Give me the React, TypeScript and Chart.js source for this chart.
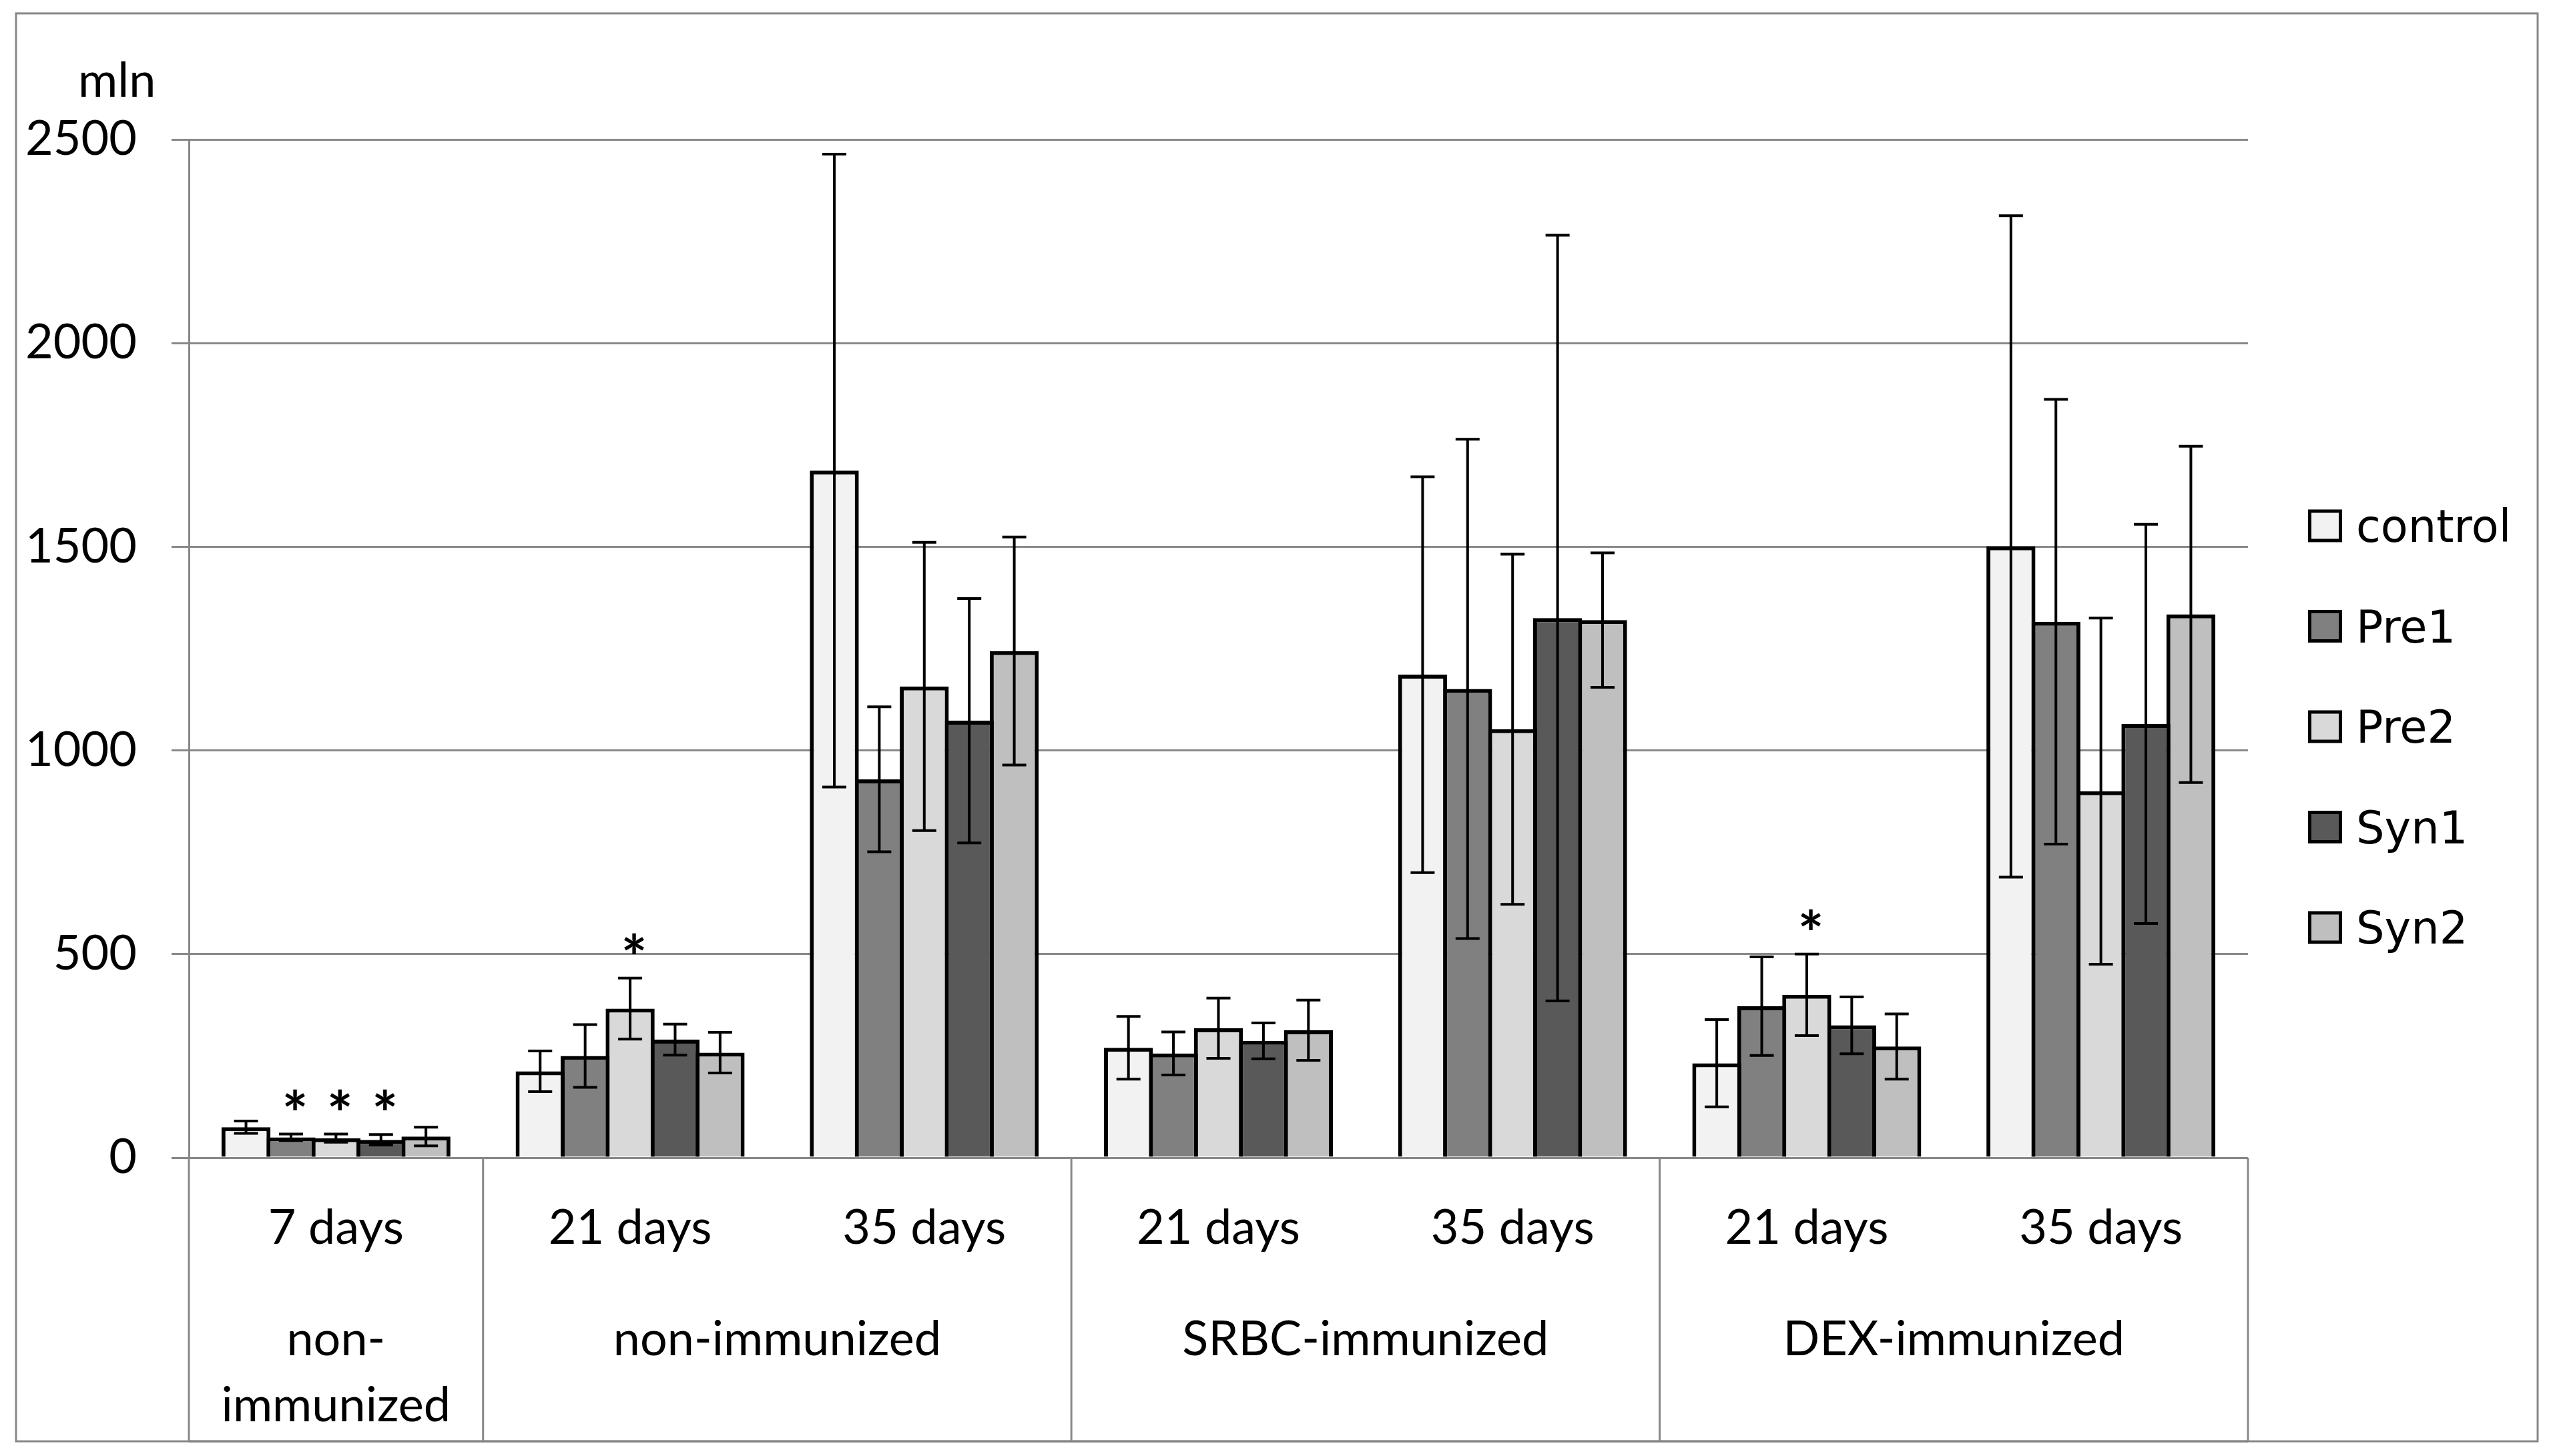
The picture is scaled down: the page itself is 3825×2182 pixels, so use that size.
import React, { useEffect, useRef } from 'react';
import { Chart, registerables } from 'chart.js';

Chart.register(...registerables);

// ---------- data ----------
const categories = ['7 days', '21 days', '35 days', '21 days', '35 days', '21 days', '35 days'];
const groupLabels = [['non-', 'immunized'], ['non-immunized'], ['SRBC-immunized'], ['DEX-immunized']];
const groupSpans = [1, 2, 2, 2];

const seriesNames = ['control', 'Pre1', 'Pre2', 'Syn1', 'Syn2'];
const control = [75, 212, 1687, 270, 1186, 232, 1501];
const controlErr = [15, 50, 777, 77, 486, 107, 812];
const pre1 = [50, 250, 929, 256, 1151, 372, 1316];
const pre1Err = [8, 77, 178, 53, 613, 121, 546];
const pre2 = [48, 366, 1157, 318, 1052, 400, 900];
const pre2Err = [10, 75, 354, 74, 430, 100, 425];
const syn1 = [44, 290, 1073, 287, 1325, 325, 1065];
const syn1Err = [13, 38, 300, 44, 940, 70, 490];
const syn2 = [52, 258, 1244, 313, 1320, 273, 1334];
const syn2Err = [23, 50, 280, 74, 165, 80, 413];

const seriesValues = [control, pre1, pre2, syn1, syn2];
const seriesErrors = [controlErr, pre1Err, pre2Err, syn1Err, syn2Err];
const seriesColors = ['#f2f2f2', '#808080', '#d9d9d9', '#595959', '#bfbfbf'];

const yTicks = [0, 500, 1000, 1500, 2000, 2500];
const yUnit = 'mln';
// [seriesIndex, categoryIndex] of bars marked with "*"
const significant = [[1, 0], [2, 0], [3, 0], [2, 1], [2, 5]];

// ---------- styling ----------
const W = 3825;
const H = 2182;
const GRID = '#888888';
const AXIS_FONT = 'Lato, "Open Sans", sans-serif';
const LEGEND_FONT = '"DejaVu Sans", Verdana, sans-serif';

const overlayPlugin = {
  id: 'overlay',
  afterDatasetsDraw(chart: any) {
    const ctx = chart.ctx;
    const ys = chart.scales.y;
    ctx.save();
    ctx.strokeStyle = '#000';
    ctx.lineWidth = 4;
    chart.data.datasets.forEach((ds: any, di: number) => {
      const meta = chart.getDatasetMeta(di);
      meta.data.forEach((bar: any, i: number) => {
        const v = ds.data[i];
        const e = seriesErrors[di][i];
        const yt = ys.getPixelForValue(v + e);
        const yb = ys.getPixelForValue(v - e);
        const cap = 18;
        ctx.beginPath();
        ctx.moveTo(bar.x, yt);
        ctx.lineTo(bar.x, yb);
        ctx.moveTo(bar.x - cap, yt);
        ctx.lineTo(bar.x + cap, yt);
        ctx.moveTo(bar.x - cap, yb);
        ctx.lineTo(bar.x + cap, yb);
        ctx.stroke();
      });
    });
    // significance asterisks
    ctx.fillStyle = '#000';
    ctx.font = `bold 92px ${AXIS_FONT}`;
    ctx.textAlign = 'center';
    ctx.textBaseline = 'alphabetic';
    const m = ctx.measureText('*');
    const asc = m.actualBoundingBoxAscent || 50;
    const desc = m.actualBoundingBoxDescent || 0;
    significant.forEach(([si, ci]) => {
      const bar = chart.getDatasetMeta(si).data[ci];
      const top = ys.getPixelForValue(seriesValues[si][ci] + seriesErrors[si][ci]);
      const cy = top - 52;
      ctx.fillText('*', bar.x + 6, cy + (asc - desc) / 2);
    });
    ctx.restore();
  },
  afterDraw(chart: any) {
    const ctx = chart.ctx;
    const xs = chart.scales.x;
    const area = chart.chartArea;
    const frameBottom = 2160;
    ctx.save();
    // outer frame
    ctx.strokeStyle = GRID;
    ctx.lineWidth = 3;
    ctx.strokeRect(24, 20, 3802 - 24, frameBottom - 20);
    // table lines below the axis
    const xsLines: number[] = [area.left];
    let idx = 0;
    groupSpans.forEach((span) => {
      idx += span;
      if (idx < categories.length) {
        xsLines.push((xs.getPixelForValue(idx - 1) + xs.getPixelForValue(idx)) / 2);
      }
    });
    xsLines.push(area.right);
    ctx.beginPath();
    xsLines.forEach((x) => {
      ctx.moveTo(x, area.bottom);
      ctx.lineTo(x, frameBottom);
    });
    ctx.moveTo(area.left, frameBottom);
    ctx.lineTo(area.right, frameBottom);
    ctx.stroke();

    // group labels
    ctx.fillStyle = '#000';
    ctx.font = `72px ${AXIS_FONT}`;
    ctx.textAlign = 'center';
    ctx.textBaseline = 'alphabetic';
    let start = 0;
    groupSpans.forEach((span, gi) => {
      const x0 = xs.getPixelForValue(start);
      const x1 = xs.getPixelForValue(start + span - 1);
      const cx = (x0 + x1) / 2;
      groupLabels[gi].forEach((line, li) => {
        ctx.fillText(line, cx, 2031 + li * 99);
      });
      start += span;
    });

    // unit label
    ctx.textAlign = 'left';
    ctx.fillText(yUnit, 117, 145);

    // legend
    ctx.font = `67px ${LEGEND_FONT}`;
    ctx.textAlign = 'left';
    ctx.textBaseline = 'alphabetic';
    seriesNames.forEach((name, i) => {
      const cy = 788 + i * 150.5;
      const bx = 3458, bw = 51, bh = 49;
      const by = cy - bh / 2;
      ctx.fillStyle = '#000';
      ctx.fillRect(bx, by, bw, bh);
      ctx.fillStyle = seriesColors[i];
      ctx.fillRect(bx + 5, by + 5, bw - 10, bh - 10);
      ctx.fillStyle = '#000';
      ctx.fillText(name, 3530, cy + 24);
    });
    ctx.restore();
  },
};

export default function App() {
  const ref = useRef<HTMLCanvasElement | null>(null);

  useEffect(() => {
    document.body.style.margin = '0';
    const canvas = ref.current;
    if (!canvas) return;
    const chart = new Chart(canvas, {
      type: 'bar',
      data: {
        labels: categories,
        datasets: seriesNames.map((name, i) => ({
          label: name,
          data: seriesValues[i],
          backgroundColor: seriesColors[i],
          borderColor: '#000',
          borderWidth: 6,
          borderSkipped: 'start',
          categoryPercentage: 0.7647,
          barPercentage: 1.089,
        })),
      },
      options: {
        responsive: false,
        maintainAspectRatio: false,
        devicePixelRatio: 1,
        animation: false,
        events: [],
        layout: { padding: { left: 0, top: 209, right: W - 3368, bottom: 0 } },
        plugins: {
          legend: { display: false },
          tooltip: { enabled: false },
          title: { display: false },
        },
        scales: {
          x: {
            type: 'category',
            grid: { display: false, drawTicks: false },
            border: { display: false },
            ticks: {
              color: '#000',
              font: { family: AXIS_FONT, size: 72 },
              padding: 63,
              maxRotation: 0,
              autoSkip: false,
            },
            afterFit(scale: any) {
              scale.height = H - 1735;
            },
          },
          y: {
            type: 'linear',
            min: yTicks[0],
            max: yTicks[yTicks.length - 1],
            afterBuildTicks(scale: any) {
              scale.ticks = yTicks.map((v) => ({ value: v }));
            },
            grid: { color: GRID, lineWidth: 3, tickLength: 26, drawTicks: true },
            border: { display: true, color: GRID, width: 3 },
            ticks: {
              color: '#000',
              font: { family: AXIS_FONT, size: 72 },
              padding: 52,
              callback: (v: any) => String(v),
            },
            afterFit(scale: any) {
              scale.width = 283;
            },
          },
        },
      },
      plugins: [overlayPlugin],
    });
    return () => chart.destroy();
  }, []);

  return (
    <div style={{ width: W, height: H, background: '#fff' }}>
      <canvas ref={ref} width={W} height={H} style={{ width: W, height: H, display: 'block' }} />
    </div>
  );
}
